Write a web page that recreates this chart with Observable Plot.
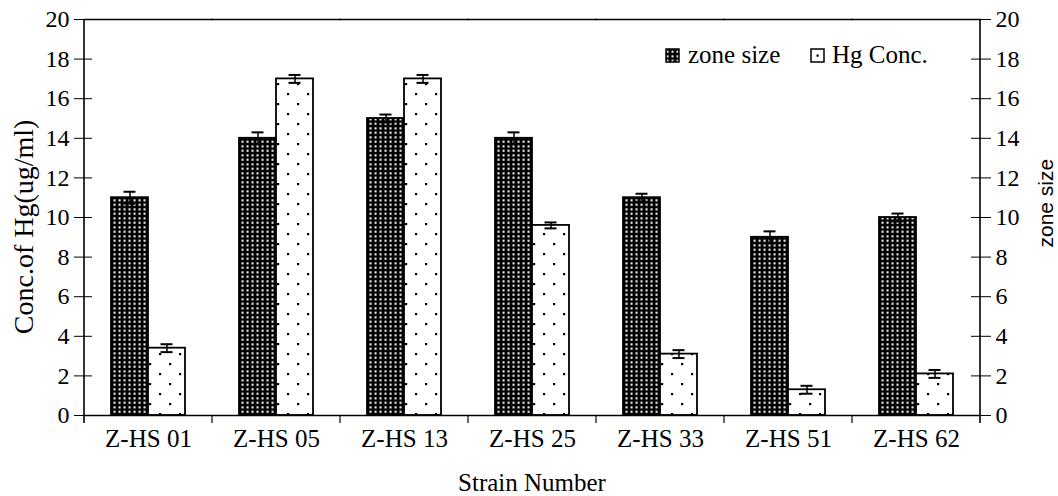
<!DOCTYPE html>
<html>
<head>
<meta charset="utf-8">
<script src="https://cdn.jsdelivr.net/npm/d3@7"></script>
<script src="https://cdn.jsdelivr.net/npm/@observablehq/plot@0.6"></script>
<style>
  html, body { margin: 0; padding: 0; background: #fff; }
  #chart { width: 1058px; height: 496px; }
  #chart svg text { font-family: "Liberation Serif", "Times New Roman", serif; font-variant: normal; }
  #chart svg text.sans { font-family: "Liberation Sans", Arial, sans-serif; }
</style>
</head>
<body>
<div id="chart"></div>
<script>
const categories = ["Z-HS 01", "Z-HS 05", "Z-HS 13", "Z-HS 25", "Z-HS 33", "Z-HS 51", "Z-HS 62"];
const seriesNames = ["zone size", "Hg Conc."];
const zoneSize = [11, 14, 15, 14, 11, 9, 10];
const zoneErr = [0.3, 0.3, 0.2, 0.3, 0.2, 0.3, 0.2];
const hgConc = [3.4, 17, 17, 9.6, 3.1, 1.3, 2.1];
const hgErr = [0.2, 0.2, 0.2, 0.15, 0.2, 0.2, 0.2];
const yTicks = [0, 2, 4, 6, 8, 10, 12, 14, 16, 18, 20];
const yInner = [2, 4, 6, 8, 10, 12, 14, 16, 18];
const yTitle = "Conc.of Hg(ug/ml)";
const xTitle = "Strain Number";
const y2Title = "zone size";

const data = categories.flatMap((c, i) => [
  {cat: c, s: seriesNames[0], v: zoneSize[i], e: zoneErr[i]},
  {cat: c, s: seriesNames[1], v: hgConc[i], e: hgErr[i]}
]);

const serif = "Liberation Serif, Times New Roman, serif";

const chart = Plot.plot({
  width: 1058,
  height: 496,
  marginLeft: 82,
  marginRight: 76,
  marginTop: 19,
  marginBottom: 81,
  style: {fontFamily: serif, fontSize: "24px", color: "#000", background: "#fff", overflow: "visible"},
  fx: {domain: categories, padding: 0, label: null},
  x: {domain: seriesNames, paddingInner: 0, paddingOuter: 0.69, axis: null},
  y: {domain: [0, 20], label: null},
  marks: [
    Plot.barY(data, {filter: d => d.s === seriesNames[0], fx: "cat", x: "s", y: "v", fill: "url(#zonePat)", stroke: "#000", strokeWidth: 1.8}),
    Plot.barY(data, {filter: d => d.s === seriesNames[1], fx: "cat", x: "s", y: "v", fill: "url(#hgPat)", stroke: "#000", strokeWidth: 1.8}),
    Plot.ruleX(data, {fx: "cat", x: "s", y1: d => d.v - d.e, y2: d => d.v + d.e, stroke: "#000", strokeWidth: 1.5}),
    Plot.tickY(data, {fx: "cat", x: "s", y: d => d.v + d.e, insetLeft: 12.5, insetRight: 12.5, stroke: "#000", strokeWidth: 2}),
    Plot.tickY(data, {fx: "cat", x: "s", y: d => d.v - d.e, insetLeft: 12.5, insetRight: 12.5, stroke: "#000", strokeWidth: 2}),
    Plot.frame({anchor: "top", stroke: "#000", strokeWidth: 1.6}),
    Plot.ruleY([0], {stroke: "#000", strokeWidth: 1.6}),
    // left axis
    Plot.axisY(yTicks, {anchor: "left", tickSize: 10, tickPadding: 5, fontSize: 24, fontFamily: serif, fontVariant: "normal", label: null}),
    Plot.axisY(yInner, {anchor: "left", tickSize: 8, dx: 8, text: null, label: null}),
    // right axis
    Plot.axisY(yTicks, {anchor: "right", tickSize: 10, tickPadding: 5, fontSize: 24, fontFamily: serif, fontVariant: "normal", label: null}),
    Plot.axisY(yInner, {anchor: "right", tickSize: 10, dx: -10, text: null, label: null}),
    // category axis
    Plot.axisFx({anchor: "bottom", tickSize: 0, tickPadding: 14, fontSize: 25, fontFamily: serif, fontVariant: "normal", label: null})
  ]
});

const svg = d3.select(chart);
svg.selectAll("[font-variant]").attr("font-variant", null);
svg.selectAll("[font-family]").attr("font-family", serif);

// patterns
const defs = svg.insert("defs", ":first-child");
const zp = defs.append("pattern").attr("id", "zonePat").attr("patternUnits", "userSpaceOnUse")
  .attr("width", 5).attr("height", 4.5);
zp.append("rect").attr("width", 5).attr("height", 4.5).attr("fill", "#000");
zp.append("rect").attr("x", 1.5).attr("y", 1.3).attr("width", 2.1).attr("height", 2).attr("fill", "#fff");
const hp = defs.append("pattern").attr("id", "hgPat").attr("patternUnits", "userSpaceOnUse")
  .attr("width", 20).attr("height", 20);
hp.append("rect").attr("width", 20).attr("height", 20).attr("fill", "#fff");
hp.append("rect").attr("x", 7).attr("y", 3).attr("width", 2.2).attr("height", 2.2).attr("fill", "#000");
hp.append("rect").attr("x", 17).attr("y", 13).attr("width", 2.2).attr("height", 2.2).attr("fill", "#000");

// axis lines & category boundary ticks using Plot's scales
const fx = chart.scale("fx");
const ys = chart.scale("y");
const y0 = ys.apply(0), y20 = ys.apply(20);
const x0 = fx.apply(categories[0]);
const xEnd = fx.apply(categories[categories.length - 1]) + fx.bandwidth;
const g = svg.append("g").attr("stroke", "#000").attr("fill", "none");
g.append("line").attr("x1", x0).attr("x2", x0).attr("y1", y20).attr("y2", y0 + 8).attr("stroke-width", 1.6);
g.append("line").attr("x1", xEnd).attr("x2", xEnd).attr("y1", y20).attr("y2", y0 + 8).attr("stroke-width", 1.6);
categories.slice(1).forEach(c => {
  const xx = fx.apply(c);
  g.append("line").attr("x1", xx).attr("x2", xx).attr("y1", y0).attr("y2", y0 + 8).attr("stroke-width", 1.2);
});

// axis titles
svg.append("text")
  .attr("transform", `translate(23,${ys.apply(9.5)}) rotate(-90)`)
  .attr("text-anchor", "middle").attr("dominant-baseline", "central")
  .attr("font-size", 28)
  .attr("fill", "#000").text(yTitle);
svg.append("text").attr("class", "sans")
  .attr("transform", `translate(${xEnd + 65},${ys.apply(10.7)}) rotate(-90)`)
  .attr("text-anchor", "middle").attr("dominant-baseline", "central")
  .attr("font-size", 21)
  .attr("fill", "#000").text(y2Title);
svg.append("text")
  .attr("x", (x0 + xEnd) / 2).attr("y", y0 + 76)
  .attr("text-anchor", "middle")
  .attr("font-size", 25)
  .attr("fill", "#000").text(xTitle);

// legend
const leg = svg.append("g").attr("font-size", 25).attr("fill", "#000").attr("text-anchor", "start");
const lx = x0 + 582, ly = y20 + 30;
leg.append("rect").attr("x", lx).attr("y", ly).attr("width", 13).attr("height", 13)
  .attr("fill", "url(#zonePat)").attr("stroke", "#000").attr("stroke-width", 1.5);
leg.append("text").attr("x", lx + 22).attr("y", ly + 14).text(seriesNames[0]);
leg.append("rect").attr("x", lx + 145).attr("y", ly).attr("width", 13).attr("height", 13)
  .attr("fill", "#fff").attr("stroke", "#000").attr("stroke-width", 1.5);
leg.append("rect").attr("x", lx + 150.5).attr("y", ly + 5.5).attr("width", 2.2).attr("height", 2.2).attr("fill", "#000");
leg.append("text").attr("x", lx + 166).attr("y", ly + 14).text(seriesNames[1]);

document.getElementById("chart").appendChild(chart);
</script>
</body>
</html>
